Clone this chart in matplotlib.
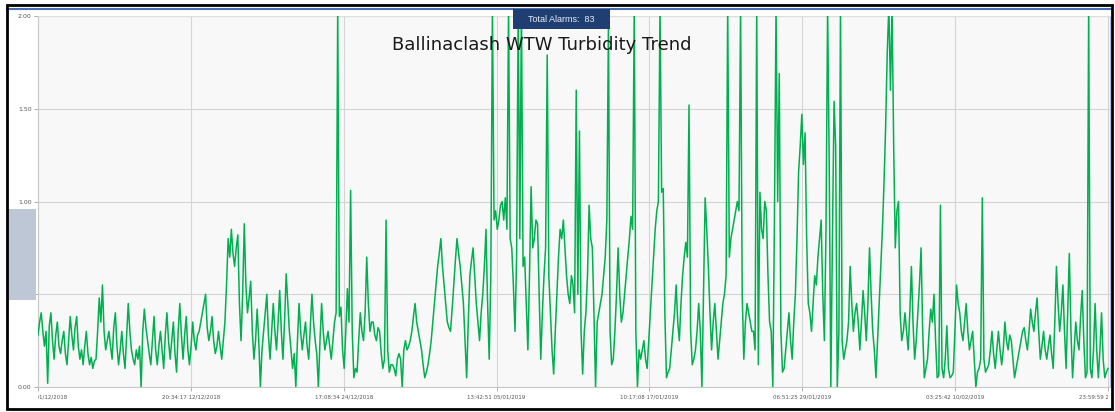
import matplotlib
matplotlib.use("Agg")
import matplotlib.pyplot as plt
import matplotlib.patches as mpatches
import matplotlib.lines as mlines
from matplotlib.transforms import Bbox
import pandas as pd

# ---------------- data ----------------
title = "Ballinaclash WTW Turbidity Trend"
alarm_text = "Total Alarms:  83"
start_time = "2018-12-01 00:00:00"
sample_step = "3h"
tick_step = "11 days 20:34:17"
x_tick_labels = ["00:00:00 01/12/2018", "20:34:17 12/12/2018", "17:08:34 24/12/2018",
                 "13:42:51 05/01/2019", "10:17:08 17/01/2019", "06:51:25 29/01/2019",
                 "03:25:42 10/02/2019", "23:59:59 21/02/2019"]
y_ticks = [0.0, 0.5, 1.0, 1.5, 2.0]

# turbidity readings (NTU), eight per day (one row per day)
turbidity = [
    0.28, 0.35, 0.40, 0.30, 0.22, 0.30, 0.02, 0.33,
    0.40, 0.25, 0.15, 0.28, 0.35, 0.22, 0.18, 0.25,
    0.30, 0.18, 0.12, 0.25, 0.38, 0.28, 0.20, 0.32,
    0.38, 0.22, 0.15, 0.20, 0.12, 0.22, 0.30, 0.18,
    0.12, 0.16, 0.10, 0.14, 0.15, 0.30, 0.48, 0.35,
    0.55, 0.30, 0.20, 0.25, 0.30, 0.22, 0.15, 0.32,
    0.40, 0.22, 0.12, 0.20, 0.30, 0.18, 0.10, 0.28,
    0.45, 0.30, 0.20, 0.15, 0.12, 0.20, 0.15, 0.22,
    0.00, 0.30, 0.42, 0.32, 0.25, 0.18, 0.12, 0.25,
    0.38, 0.20, 0.12, 0.22, 0.30, 0.20, 0.10, 0.28,
    0.40, 0.25, 0.15, 0.25, 0.35, 0.18, 0.08, 0.30,
    0.45, 0.28, 0.15, 0.28, 0.38, 0.20, 0.12, 0.22,
    0.35, 0.25, 0.20, 0.28, 0.30, 0.35, 0.40, 0.45,
    0.50, 0.32, 0.25, 0.30, 0.38, 0.25, 0.18, 0.22,
    0.30, 0.22, 0.15, 0.25, 0.35, 0.55, 0.80, 0.70,
    0.85, 0.72, 0.65, 0.75, 0.82, 0.45, 0.25, 0.50,
    0.88, 0.55, 0.40, 0.48, 0.57, 0.30, 0.15, 0.25,
    0.42, 0.25, 0.00, 0.20, 0.30, 0.40, 0.50, 0.28,
    0.15, 0.30, 0.45, 0.30, 0.20, 0.35, 0.52, 0.30,
    0.15, 0.35, 0.61, 0.45, 0.30, 0.20, 0.10, 0.18,
    0.00, 0.25, 0.45, 0.30, 0.20, 0.28, 0.35, 0.22,
    0.15, 0.32, 0.50, 0.35, 0.25, 0.18, 0.00, 0.25,
    0.45, 0.30, 0.20, 0.25, 0.30, 0.22, 0.15, 0.25,
    0.35, 0.40, 2.05, 0.38, 0.43, 0.20, 0.10, 0.30,
    0.53, 0.35, 1.06, 0.30, 0.05, 0.10, 0.08, 0.25,
    0.40, 0.30, 0.25, 0.40, 0.70, 0.45, 0.30, 0.35,
    0.35, 0.28, 0.25, 0.32, 0.30, 0.18, 0.10, 0.15,
    0.90, 0.20, 0.08, 0.12, 0.12, 0.10, 0.06, 0.15,
    0.18, 0.15, 0.00, 0.20, 0.25, 0.20, 0.22, 0.25,
    0.30, 0.38, 0.45, 0.35, 0.30, 0.25, 0.20, 0.12,
    0.05, 0.08, 0.12, 0.18, 0.25, 0.35, 0.45, 0.55,
    0.65, 0.72, 0.80, 0.65, 0.55, 0.45, 0.35, 0.32,
    0.30, 0.42, 0.55, 0.68, 0.80, 0.72, 0.65, 0.55,
    0.45, 0.25, 0.05, 0.35, 0.60, 0.68, 0.75, 0.60,
    0.45, 0.35, 0.25, 0.40, 0.50, 0.65, 0.85, 0.45,
    0.15, 0.60, 2.05, 0.90, 0.95, 0.85, 0.90, 0.98,
    1.00, 0.90, 1.02, 0.85, 2.05, 0.80, 0.75, 0.55,
    0.30, 0.70, 2.05, 0.80, 2.05, 0.65, 0.70, 0.45,
    0.20, 0.60, 1.08, 0.75, 0.80, 0.90, 0.88, 0.50,
    0.15, 0.40, 0.60, 0.75, 1.79, 0.60, 0.40, 0.20,
    0.07, 0.30, 0.50, 0.70, 0.85, 0.80, 0.90, 0.75,
    0.60, 0.50, 0.45, 0.60, 0.55, 0.40, 1.60, 0.50,
    1.38, 0.30, 0.07, 0.30, 0.40, 0.60, 0.98, 0.80,
    0.75, 0.40, 0.00, 0.35, 0.40, 0.45, 0.50, 0.60,
    0.70, 0.90, 1.96, 0.30, 0.12, 0.15, 0.30, 0.50,
    0.75, 0.50, 0.35, 0.40, 0.50, 0.60, 0.70, 0.80,
    0.92, 0.85, 2.05, 0.30, 0.00, 0.20, 0.15, 0.20,
    0.25, 0.15, 0.10, 0.25, 0.40, 0.55, 0.70, 0.85,
    0.95, 1.00, 2.05, 1.05, 1.07, 0.40, 0.05, 0.08,
    0.10, 0.20, 0.30, 0.40, 0.55, 0.35, 0.25, 0.45,
    0.60, 0.70, 0.78, 0.70, 1.52, 0.30, 0.12, 0.15,
    0.20, 0.30, 0.45, 0.30, 0.00, 0.50, 1.02, 0.85,
    0.65, 0.40, 0.20, 0.35, 0.45, 0.30, 0.15, 0.25,
    0.35, 0.45, 0.50, 0.60, 2.05, 0.70, 0.80, 0.85,
    0.90, 0.95, 1.00, 0.95, 2.05, 0.50, 0.15, 0.35,
    0.45, 0.40, 0.35, 0.30, 0.30, 0.20, 2.05, 0.12,
    1.05, 0.85, 0.80, 1.00, 0.95, 0.60, 0.35, 0.30,
    0.00, 0.90, 2.05, 1.00, 1.69, 0.30, 0.08, 0.10,
    0.20, 0.30, 0.40, 0.25, 0.15, 0.35, 0.50, 0.80,
    1.16, 1.30, 1.47, 1.20, 1.37, 0.80, 0.45, 0.40,
    0.30, 0.45, 0.60, 0.55, 0.70, 0.80, 0.90, 0.50,
    0.25, 0.85, 2.05, 1.20, 0.00, 0.80, 1.54, 1.30,
    0.00, 0.30, 2.05, 0.25, 0.15, 0.20, 0.25, 0.35,
    0.65, 0.45, 0.30, 0.40, 0.45, 0.35, 0.20, 0.35,
    0.52, 0.40, 0.25, 0.45, 0.75, 0.50, 0.30, 0.20,
    0.05, 0.25, 0.45, 0.65, 0.85, 1.10, 1.40, 1.80,
    2.05, 1.60, 2.05, 1.30, 0.75, 0.95, 1.00, 0.40,
    0.25, 0.30, 0.40, 0.30, 0.20, 0.40, 0.65, 0.35,
    0.15, 0.25, 0.40, 0.55, 0.75, 0.30, 0.05, 0.10,
    0.15, 0.30, 0.42, 0.35, 0.50, 0.25, 0.05, 0.06,
    0.98, 0.10, 0.05, 0.15, 0.33, 0.10, 0.05, 0.06,
    0.08, 0.30, 0.55, 0.45, 0.40, 0.30, 0.25, 0.35,
    0.45, 0.30, 0.20, 0.25, 0.30, 0.15, 0.00, 0.08,
    0.10, 0.15, 1.02, 0.15, 0.08, 0.10, 0.12, 0.20,
    0.30, 0.18, 0.10, 0.20, 0.30, 0.20, 0.12, 0.20,
    0.35, 0.25, 0.20, 0.28, 0.25, 0.15, 0.05, 0.10,
    0.15, 0.20, 0.25, 0.30, 0.32, 0.25, 0.20, 0.30,
    0.42, 0.35, 0.30, 0.40, 0.48, 0.30, 0.15, 0.22,
    0.30, 0.20, 0.15, 0.22, 0.28, 0.18, 0.10, 0.35,
    0.65, 0.45, 0.30, 0.40, 0.55, 0.30, 0.10, 0.40,
    0.72, 0.30, 0.05, 0.20, 0.35, 0.25, 0.20, 0.38,
    0.52, 0.25, 0.05, 0.08, 2.05, 0.10, 0.05, 0.20,
    0.45, 0.20, 0.05, 0.20, 0.40, 0.15, 0.05, 0.08,
    0.10,
]

# ---------------- figure ----------------
W, H = 1115, 412
fig = plt.figure(figsize=(W / 100, H / 100), dpi=100)
fig.patch.set_facecolor("white")


def fx(x):
    return x / W


def fy(y):
    return 1 - y / H


ax_left, ax_right, ax_top, ax_bottom = 38, 1110, 16, 387
ax = fig.add_axes([fx(ax_left), fy(ax_bottom), (ax_right - ax_left) / W, (ax_bottom - ax_top) / H])
ax.set_facecolor("#F8F8F8")

times = pd.date_range(start=start_time, periods=len(turbidity), freq=sample_step)
ax.plot(times, turbidity, color="#00B050", lw=1.1, zorder=3)

t0 = pd.Timestamp(start_time)
tick_times = [t0 + k * pd.Timedelta(tick_step) for k in range(len(x_tick_labels))]
px_per_day = (1108 - 38) / ((tick_times[-1] - t0).total_seconds() / 86400)
extra_days = (ax_right - 1108) / px_per_day
ax.set_xlim(t0, tick_times[-1] + pd.Timedelta(days=extra_days))
ax.set_ylim(0, 2.0)

ax.set_xticks(tick_times)
ax.set_xticklabels(x_tick_labels)
ax.set_yticks(y_ticks)
ax.set_yticklabels([f"{v:.2f}" for v in y_ticks])

ax.grid(True, color="#D4D4D4", lw=0.8, zorder=0)
ax.tick_params(axis="both", length=3, width=0.6, color="#A0A0A0", labelcolor="#555555")
ax.tick_params(axis="y", labelsize=4.5, pad=1.5)
ax.tick_params(axis="x", labelsize=4.0, pad=2.5)

for name, sp in ax.spines.items():
    sp.set_linewidth(0.8)
    sp.set_color("#C8C8C8")
ax.spines["right"].set_color("#B4B8E6")
ax.spines["top"].set_color("#DDDDDD")

# clip tick labels to the visible screenshot region
clip = Bbox.from_extents(38, 0, 1108, H)
for lab in ax.get_xticklabels():
    lab.set_clip_on(True)
    lab.set_clip_box(clip)

# ---------------- decorations ----------------
fig.text(fx(542), fy(45), title, ha="center", va="center", fontsize=13,
         color="#1A1A1A", family="DejaVu Sans")

# top blue line
fig.add_artist(mlines.Line2D([fx(7), fx(1112)], [fy(9), fy(9)], color="#4A6FB5", lw=1.5,
                             transform=fig.transFigure))

# alarm box
fig.add_artist(mpatches.Rectangle((fx(513), fy(29)), fx(610) - fx(513), fy(9) - fy(29),
                                  transform=fig.transFigure, facecolor="#1F3F73",
                                  edgecolor="none", zorder=5))
fig.text(fx(561.5), fy(19), alarm_text, ha="center", va="center", fontsize=6.5,
         color="#E8EEF8", family="Liberation Sans", zorder=6)

# left scroll indicator
fig.add_artist(mpatches.Rectangle((fx(8), fy(300)), fx(36) - fx(8), fy(209) - fy(300),
                                  transform=fig.transFigure, facecolor="#BDC7D5",
                                  edgecolor="none", zorder=1))

# outer black frame
fig.add_artist(mpatches.Rectangle((fx(7), fy(409)), fx(1112) - fx(7), fy(5) - fy(409),
                                  transform=fig.transFigure, fill=False,
                                  edgecolor="black", lw=2.0, zorder=10))

fig.savefig("out.png", dpi=100)
